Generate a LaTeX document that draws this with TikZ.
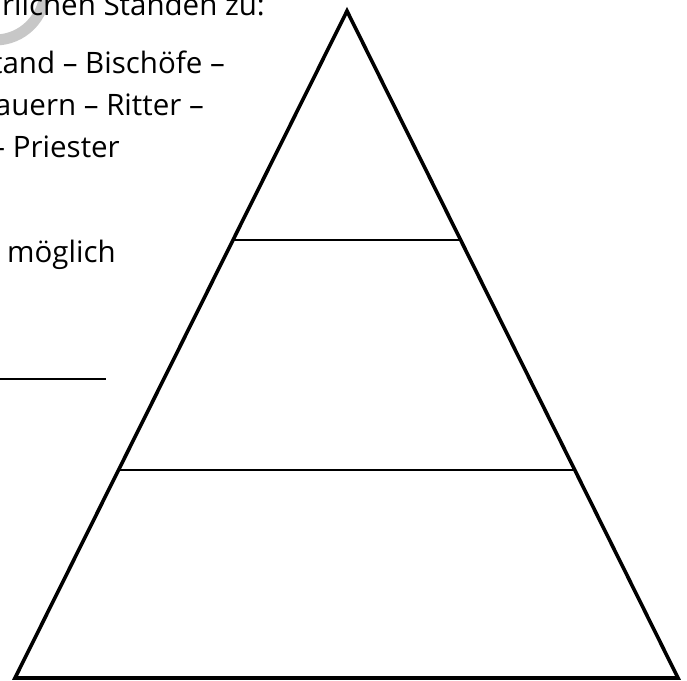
\documentclass[tikz,border=0pt]{standalone}
\usepackage{fontspec}
\setmainfont{Open Sans}
\usetikzlibrary{calc}
\begin{document}
\begin{tikzpicture}[x=1pt,y=-1pt,
  txt/.style={inner sep=0pt, font=\fontsize{29.5}{34}\selectfont},
  edge/.style={line width=3.6pt, line join=miter},
  level/.style={line width=2pt},
  blank/.style={line width=1.6pt}]
\useasboundingbox (0,0) rectangle (687,680);
\begin{scope}
\clip (0,0) rectangle (687,680);
\draw[line width=11pt, color=black!22] (-5,-10) ++(90:50) arc[start angle=90, end angle=0, radius=50];
\end{scope}
\node[txt, anchor=base east] (t1) at (265,16) {rlichen Ständen zu:};
\node[txt, anchor=base east] (t2) at (225,73) {tand – Bischöfe –};
\node[txt, anchor=base east] (t3) at (204,115) {auern – Ritter –};
\node[txt, anchor=base east] (t4) at (120,157) {– Priester};
\node[txt, anchor=base west] (t5) at (7,262) {möglich};
\coordinate (b1) at (0,379);
\coordinate (b2) at (106,379);
\draw[blank] (b1) -- (b2);
\coordinate (apex) at (347,11);
\coordinate (bl) at (15,678);
\coordinate (br) at (678,678);
\draw[edge] (apex) -- (bl) -- (br) -- cycle;
\draw[level] ($(apex)!0.3433!(bl)$) -- ($(apex)!0.3433!(br)$);
\draw[level] ($(apex)!0.688!(bl)$) -- ($(apex)!0.688!(br)$);
\end{tikzpicture}
\end{document}
